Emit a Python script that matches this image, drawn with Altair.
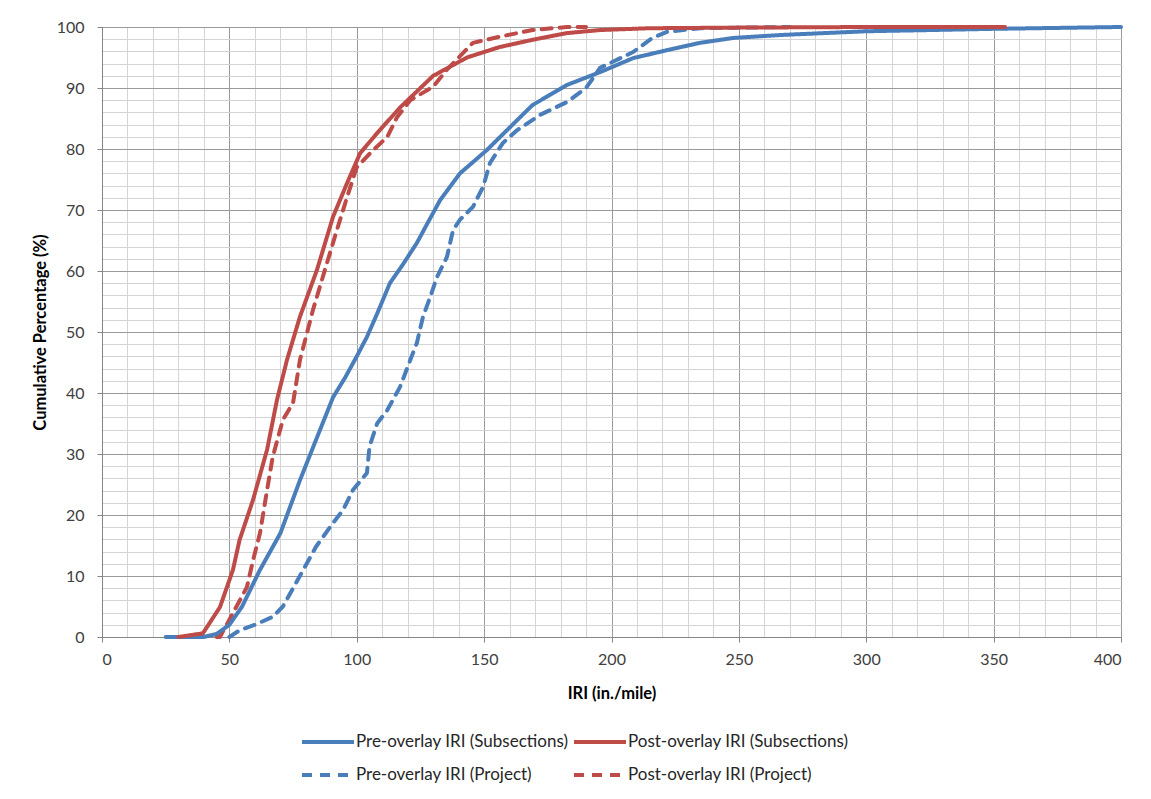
import altair as alt
import pandas as pd

# curves (IRI in./mile vs cumulative %)
pre_sub_x = [25, 40, 45, 50, 55, 62, 70, 77.7, 84, 90.7, 95.4, 100, 104, 108, 113, 118, 123.6, 128,
             132.7, 140.5, 151, 159, 169, 182.5, 195.5, 208.5, 221.8, 234.7, 247.7, 267, 300, 350, 400]
pre_sub_y = [0, 0, 0.5, 2, 5, 11, 17, 25.7, 32.3, 39.3, 42.5, 46, 49.2, 53, 58, 61, 64.6, 68,
             71.6, 76, 79.8, 83.1, 87.2, 90.5, 92.6, 94.9, 96.2, 97.4, 98.2, 98.7, 99.3, 99.7, 100]

post_sub_x = [30, 39.6, 46.3, 51.4, 54, 59.3, 64.8, 68.7, 72.6, 77.7, 84.4, 90.7, 96.2, 101.3, 108,
              117, 130, 143.3, 156, 169, 182.5, 195.5, 215, 250, 300, 354.5]
post_sub_y = [0, 0.6, 4.9, 11, 15.9, 22.5, 30.7, 38.9, 45.4, 52.5, 60.2, 68.9, 74.4, 79.3, 82.6,
              86.8, 92, 95, 96.7, 97.9, 99, 99.5, 99.8, 99.9, 100, 100]

pre_proj_x = [50, 54, 60, 67, 71, 75, 79, 84, 90.7, 94.6, 98.5, 104, 105, 108, 112, 117, 121, 123.6,
              126, 128.8, 131.5, 135.4, 137.8, 140.5, 145.6, 149.6, 152.3, 157.4, 163, 172, 182.5,
              190, 192.7, 195.5, 208.5, 216, 221.8, 234.7, 270]
pre_proj_y = [0, 1.1, 2, 3.3, 5, 8, 11, 14.8, 18.7, 20.8, 24.1, 26.9, 31.2, 35, 37.2, 41, 45.4, 48.2,
              52.5, 55.7, 59, 62.3, 66.7, 68.4, 70.5, 73.8, 77.7, 81, 83.1, 85.6, 87.7,
              90, 91.6, 93.3, 95.9, 98.2, 99.2, 99.8, 100]

post_proj_x = [45, 46.3, 51.4, 56.9, 59.3, 62, 64.8, 67, 71, 75, 77.7, 82.8, 88.3, 92.2, 96.2, 100,
               105.2, 112, 115.8, 121, 130, 135.4, 145.6, 156, 169, 182.5, 190]
post_proj_y = [0, 0, 3.9, 8.2, 12.6, 17, 24.1, 29.5, 35.6, 38.4, 45.4, 53.6, 61.3, 66.7, 72.1, 77,
               79.3, 82, 85.2, 88, 90.2, 93, 97.4, 98.4, 99.5, 100, 100]

series_names = [
    "Pre-overlay IRI (Subsections)",
    "Post-overlay IRI (Subsections)",
    "Pre-overlay IRI (Project)",
    "Post-overlay IRI (Project)",
]
series_colors = ["#4A7EBB", "#BE4B48", "#4A7EBB", "#BE4B48"]
series_dash = [[1, 0], [1, 0], [10, 8], [10, 8]]

x_ticks = list(range(0, 401, 10))
y_ticks = list(range(0, 101, 2))

curves = {
    series_names[0]: (pre_sub_x, pre_sub_y),
    series_names[1]: (post_sub_x, post_sub_y),
    series_names[2]: (pre_proj_x, pre_proj_y),
    series_names[3]: (post_proj_x, post_proj_y),
}
frames = []
for name, (xs, ys) in curves.items():
    frames.append(pd.DataFrame({"iri": xs, "pct": ys, "series": name}))
data = pd.concat(frames, ignore_index=True)

FONT = "Lato"

x_enc = alt.X(
    "iri:Q",
    scale=alt.Scale(domain=[0, 400], nice=False),
    axis=alt.Axis(
        title="IRI (in./mile)",
        values=x_ticks,
        labelExpr="datum.value % 50 === 0 ? datum.label : ''",
        gridColor=alt.condition("datum.value % 50 === 0", alt.value("#9a9a9a"), alt.value("#d4d4d4")),
        tickColor=alt.condition("datum.value % 50 === 0", alt.value("#868686"), alt.value("transparent")),
        tickSize=5,
        labelPadding=9,
        titlePadding=18,
    ),
)
y_enc = alt.Y(
    "pct:Q",
    scale=alt.Scale(domain=[0, 100], nice=False),
    axis=alt.Axis(
        title="Cumulative Percentage (%)",
        values=y_ticks,
        labelExpr="datum.value % 10 === 0 ? datum.label : ''",
        gridColor=alt.condition("datum.value % 10 === 0", alt.value("#9a9a9a"), alt.value("#d4d4d4")),
        tickColor=alt.condition("datum.value % 10 === 0", alt.value("#868686"), alt.value("transparent")),
        tickSize=5,
        labelPadding=13,
        titlePadding=8,
    ),
)
# short symbol box (row height) with a path twice as wide as the box
color_enc = alt.Color(
    "series:N",
    scale=alt.Scale(domain=series_names, range=series_colors),
    legend=alt.Legend(
        title=None,
        orient="none",
        direction="horizontal",
        legendX=211,
        legendY=700,
        columns=2,
        symbolType="M-2,0H2",
        symbolSize=676,
        symbolStrokeWidth=4,
        labelFont=FONT,
        labelFontSize=17,
        labelColor="#262626",
        labelOffset=13,
        columnPadding=-3,
        rowPadding=10,
        labelLimit=400,
    ),
)
dash_enc = alt.StrokeDash(
    "series:N",
    scale=alt.Scale(domain=series_names, range=series_dash),
    legend=alt.Legend(title=None),
)

# draw order: dashed red, dashed blue, solid blue, solid red on top
layers = []
for name in [series_names[3], series_names[2], series_names[0], series_names[1]]:
    layers.append(
        alt.Chart(data)
        .transform_filter(alt.datum.series == name)
        .mark_line(strokeWidth=4, strokeCap="round", strokeJoin="round")
        .encode(x=x_enc, y=y_enc, color=color_enc, strokeDash=dash_enc, order="iri:Q")
    )

chart = (
    alt.layer(*layers)
    .properties(
        width=1019,
        height=610,
        autosize=alt.AutoSizeParams(type="none"),
        padding={"left": 94, "top": 19, "right": 22, "bottom": 154},
        background="white",
    )
    .configure_view(stroke="#868686", strokeWidth=1)
    .configure_axis(
        labelFont=FONT,
        labelFontSize=16,
        labelColor="#404040",
        titleFont=FONT,
        titleFontSize=16.5,
        titleFontWeight="bold",
        titleColor="#000000",
        domainColor="#868686",
        gridWidth=1,
        gridOpacity=1,
    )
)

chart.save("out.html", embed_options={"renderer": "svg", "actions": False})
